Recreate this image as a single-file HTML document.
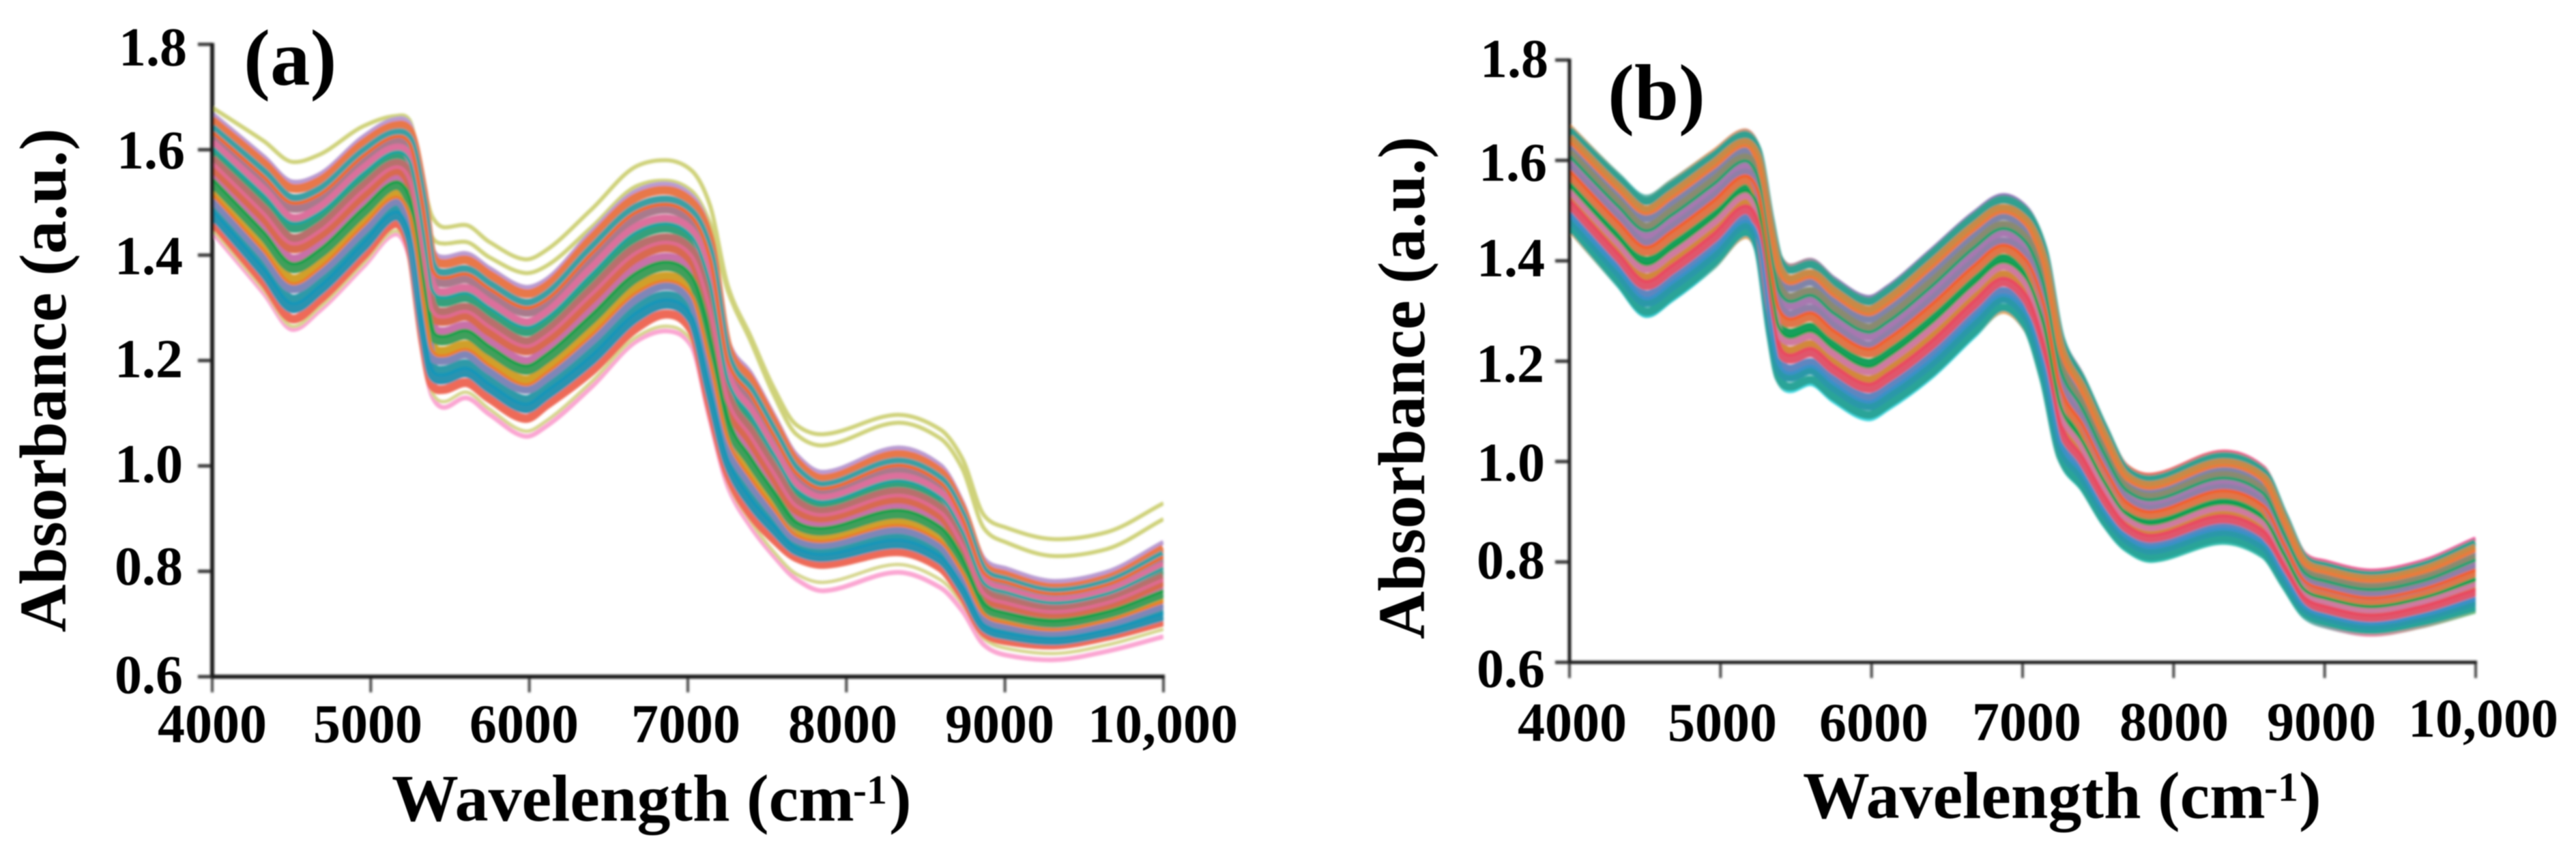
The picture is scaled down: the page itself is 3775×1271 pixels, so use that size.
<!DOCTYPE html>
<html lang="en">
<head>
<meta charset="utf-8">
<title>NIR absorbance spectra</title>
<style>
html,body{margin:0;padding:0;background:#fff;}
svg{display:block;}
text{font-family:"Liberation Serif",serif;font-weight:bold;fill:#000;}
</style>
</head>
<body>
<svg id="figure" xmlns="http://www.w3.org/2000/svg" width="3775" height="1271" viewBox="0 0 3775 1271">
<defs>
<filter id="soft" filterUnits="userSpaceOnUse" x="0" y="0" width="3775" height="1271"><feGaussianBlur stdDeviation="1.5"/></filter>
<filter id="softText" filterUnits="userSpaceOnUse" x="0" y="0" width="3775" height="1271"><feGaussianBlur stdDeviation="0.8"/></filter>
<clipPath id="clipA"><rect x="311" y="60" width="1394" height="935"/></clipPath>
<clipPath id="clipB"><rect x="2300" y="80" width="1328" height="893"/></clipPath>
<linearGradient id="bTopStroke" gradientUnits="userSpaceOnUse" x1="2300" y1="0" x2="3628" y2="0">
<stop offset="0" stop-color="#f0a060"/><stop offset="0.07" stop-color="#45b8b8"/><stop offset="0.16" stop-color="#f09a60"/><stop offset="0.3" stop-color="#8f7cb8"/><stop offset="0.55" stop-color="#8f6fb8"/><stop offset="0.62" stop-color="#ef6a50"/><stop offset="0.75" stop-color="#f0508a"/><stop offset="1" stop-color="#f0509a"/>
</linearGradient>
<linearGradient id="bBottomStroke" gradientUnits="userSpaceOnUse" x1="2300" y1="0" x2="3628" y2="0">
<stop offset="0" stop-color="#f0b070"/><stop offset="0.06" stop-color="#30c8cc"/><stop offset="0.14" stop-color="#30c8cc"/><stop offset="0.2" stop-color="#f5a860"/><stop offset="0.24" stop-color="#40d8e0"/><stop offset="0.45" stop-color="#40d8e0"/><stop offset="0.48" stop-color="#f5a860"/><stop offset="0.55" stop-color="#20b8a8"/><stop offset="0.8" stop-color="#40c0b0"/><stop offset="0.88" stop-color="#f080a0"/><stop offset="1" stop-color="#70c080"/>
</linearGradient>
</defs>
<g id="plotA" filter="url(#soft)"></g>
<g id="plotB" filter="url(#soft)"></g>
<g filter="url(#softText)">
<text x="357" y="124" font-size="117">(a)</text>
<text transform="translate(96,927) rotate(-90)" font-size="97" textLength="739" lengthAdjust="spacingAndGlyphs">Absorbance (a.u.)</text>
<text font-size="98"><tspan x="574" y="1203">Wavelength (cm</tspan><tspan x="1250" y="1178" font-size="60">-1</tspan><tspan x="1303" y="1203">)</tspan></text>
<g font-size="80" text-anchor="end">
<text x="274" y="96">1.8</text>
<text x="271" y="247">1.6</text>
<text x="268" y="402">1.4</text>
<text x="268" y="553">1.2</text>
<text x="268" y="707">1.0</text>
<text x="268" y="857">0.8</text>
<text x="268" y="1016">0.6</text>
</g>
<g font-size="80" text-anchor="middle">
<text x="311" y="1088">4000</text>
<text x="539" y="1088">5000</text>
<text x="768" y="1088">6000</text>
<text x="1005" y="1088">7000</text>
<text x="1235" y="1088">8000</text>
<text x="1465" y="1088">9000</text>
<text x="1704" y="1088">10,000</text>
</g>
</g>
<g filter="url(#softText)">
<text x="2356" y="175" font-size="117">(b)</text>
<text transform="translate(2087,937) rotate(-90)" font-size="97" textLength="737" lengthAdjust="spacingAndGlyphs">Absorbance (a.u.)</text>
<text font-size="98"><tspan x="2642" y="1199">Wavelength (cm</tspan><tspan x="3318" y="1174" font-size="60">-1</tspan><tspan x="3369" y="1199">)</tspan></text>
<g font-size="80" text-anchor="end">
<text x="2269" y="113">1.8</text>
<text x="2267" y="265">1.6</text>
<text x="2264" y="405">1.4</text>
<text x="2263" y="560">1.2</text>
<text x="2264" y="705">1.0</text>
<text x="2264" y="848">0.8</text>
<text x="2264" y="1007">0.6</text>
</g>
<g font-size="80" text-anchor="middle">
<text x="2304" y="1086">4000</text>
<text x="2524" y="1086">5000</text>
<text x="2746" y="1086">6000</text>
<text x="2970" y="1085">7000</text>
<text x="3186" y="1085">8000</text>
<text x="3402" y="1085">9000</text>
<text x="3639" y="1080">10,000</text>
</g>
</g>
</svg>
<script>
const wavenumbers = [4000,4327,4504,4671,4956,5158,5244,5330,5386,5459,5601,5748,5976,6105,6393,6678,6867,7022,7138,7254,7396,7539,7684,7853,8322,8593,8731,8869,9006,9308,9640,10000];
const xTickValues = [4000,5000,6000,7000,8000,9000,10000];
const yTickValues = [0.6,0.8,1.0,1.2,1.4,1.6,1.8];

const aOliveHigh = [1.680,1.616,1.577,1.590,1.645,1.664,1.656,1.539,1.474,1.453,1.457,1.425,1.392,1.409,1.487,1.569,1.580,1.561,1.496,1.340,1.246,1.150,1.078,1.060,1.097,1.069,1.014,.906,.883,.861,.874,.929];
const aOliveNext = [1.664,1.582,1.535,1.548,1.622,1.654,1.645,1.520,1.435,1.422,1.425,1.396,1.366,1.379,1.453,1.531,1.541,1.522,1.461,1.331,1.237,1.137,1.060,1.039,1.082,1.052,.995,.881,.855,.829,.842,.899];
const aPurpleEdge = [1.668,1.586,1.539,1.552,1.625,1.658,1.649,1.535,1.414,1.396,1.403,1.375,1.339,1.353,1.444,1.522,1.535,1.513,1.444,1.237,1.176,1.098,1.021,.988,1.034,1.001,.931,.823,.805,.781,.798,.855];
const aPinkEdge = [1.444,1.327,1.259,1.293,1.379,1.440,1.396,1.215,1.133,1.111,1.129,1.098,1.056,1.075,1.150,1.237,1.256,1.228,1.090,.960,.885,.830,.785,.763,.798,.769,.725,.660,.641,.632,.648,.676];
const aOliveLow = [1.450,1.333,1.265,1.299,1.385,1.446,1.402,1.222,1.140,1.122,1.140,1.108,1.066,1.085,1.160,1.245,1.265,1.237,1.100,.968,.895,.838,.795,.779,.813,.784,.738,.672,.654,.644,.660,.690];

const a01 = [1.656,1.574,1.527,1.540,1.613,1.646,1.637,1.523,1.402,1.384,1.391,1.363,1.327,1.341,1.432,1.510,1.523,1.501,1.432,1.225,1.164,1.086,1.009,.976,1.022,.989,.919,.811,.793,.769,.786,.843];
const a02 = [1.641,1.557,1.508,1.523,1.597,1.632,1.620,1.501,1.383,1.366,1.373,1.345,1.309,1.324,1.413,1.491,1.505,1.482,1.407,1.206,1.144,1.068,.994,.963,1.008,.975,.906,.801,.783,.761,.778,.832];
const a03 = [1.626,1.539,1.489,1.505,1.580,1.617,1.603,1.479,1.364,1.347,1.355,1.327,1.291,1.306,1.393,1.472,1.487,1.464,1.383,1.188,1.125,1.050,.978,.951,.994,.961,.893,.791,.774,.752,.769,.822];
const a04 = [1.612,1.522,1.470,1.488,1.564,1.603,1.586,1.456,1.344,1.329,1.337,1.309,1.272,1.289,1.374,1.453,1.469,1.445,1.358,1.169,1.105,1.032,.963,.938,.979,.947,.881,.782,.764,.744,.761,.811];
const a05 = [1.597,1.504,1.451,1.470,1.547,1.589,1.569,1.434,1.325,1.310,1.319,1.291,1.254,1.271,1.354,1.434,1.451,1.426,1.334,1.151,1.085,1.014,.947,.926,.965,.933,.868,.772,.755,.735,.752,.800];
const a06 = [1.582,1.487,1.432,1.453,1.531,1.574,1.552,1.412,1.306,1.292,1.301,1.273,1.236,1.254,1.335,1.415,1.433,1.408,1.309,1.132,1.066,.996,.932,.913,.951,.919,.855,.762,.745,.727,.744,.789];
const a07 = [1.567,1.469,1.412,1.435,1.514,1.560,1.535,1.390,1.287,1.274,1.284,1.254,1.218,1.237,1.316,1.395,1.414,1.389,1.285,1.113,1.046,.979,.916,.901,.937,.905,.842,.752,.735,.719,.735,.779];
const a08 = [1.552,1.452,1.393,1.418,1.498,1.546,1.518,1.368,1.268,1.255,1.266,1.236,1.199,1.219,1.296,1.376,1.396,1.370,1.260,1.095,1.026,.961,.901,.888,.923,.891,.830,.742,.726,.710,.727,.768];
const a09 = [1.538,1.434,1.374,1.400,1.481,1.532,1.501,1.346,1.249,1.237,1.248,1.218,1.181,1.202,1.277,1.357,1.378,1.351,1.236,1.076,1.006,.945,.888,.876,.908,.877,.817,.733,.716,.702,.718,.757];
const a10 = [1.523,1.417,1.355,1.383,1.465,1.517,1.484,1.324,1.229,1.218,1.230,1.200,1.163,1.185,1.257,1.338,1.360,1.333,1.211,1.058,.987,.928,.873,.863,.894,.863,.804,.723,.706,.693,.710,.747];
const a11 = [1.508,1.399,1.336,1.365,1.448,1.503,1.467,1.301,1.210,1.200,1.212,1.182,1.145,1.167,1.238,1.319,1.342,1.314,1.187,1.039,.967,.912,.862,.851,.880,.849,.791,.713,.697,.685,.701,.736];
const a12 = [1.493,1.382,1.317,1.348,1.432,1.489,1.450,1.279,1.191,1.182,1.194,1.164,1.126,1.150,1.219,1.300,1.324,1.295,1.162,1.020,.947,.896,.850,.838,.866,.835,.779,.703,.687,.677,.693,.725];
const a13 = [1.478,1.364,1.298,1.330,1.415,1.474,1.433,1.257,1.172,1.163,1.176,1.146,1.108,1.132,1.199,1.281,1.306,1.277,1.138,1.002,.928,.879,.838,.826,.851,.821,.766,.693,.678,.668,.684,.714];
const a14 = [1.464,1.347,1.279,1.313,1.399,1.460,1.416,1.235,1.153,1.145,1.158,1.128,1.090,1.115,1.180,1.262,1.288,1.258,1.113,.983,.908,.862,.826,.813,.837,.807,.753,.683,.668,.660,.676,.704];

const aThin1 = [1.634,1.548,1.499,1.514,1.589,1.625,1.612,1.490,1.374,1.357,1.364,1.336,1.300,1.315,1.403,1.482,1.496,1.473,1.395,1.197,1.135,1.059,.986,.957,1.001,.968,.900,.796,.779,.757,.774,.827];
const aThin2 = [1.605,1.513,1.461,1.479,1.556,1.596,1.578,1.445,1.335,1.320,1.328,1.300,1.263,1.280,1.364,1.444,1.460,1.436,1.346,1.160,1.095,1.023,.955,.932,.972,.940,.875,.777,.760,.740,.757,.806];
const aThin3 = [1.575,1.478,1.422,1.444,1.523,1.567,1.544,1.401,1.297,1.283,1.293,1.264,1.227,1.246,1.326,1.405,1.424,1.399,1.297,1.123,1.056,.988,.924,.907,.944,.912,.849,.757,.740,.723,.740,.784];
const aThin4 = [1.545,1.443,1.384,1.409,1.490,1.539,1.510,1.357,1.259,1.246,1.257,1.227,1.190,1.211,1.287,1.367,1.387,1.361,1.248,1.086,1.016,.952,.893,.882,.916,.884,.824,.738,.721,.706,.723,.763];
const aThin5 = [1.516,1.408,1.346,1.374,1.457,1.510,1.476,1.313,1.220,1.209,1.221,1.191,1.154,1.176,1.248,1.329,1.351,1.324,1.199,1.049,.977,.920,.868,.857,.887,.856,.798,.718,.702,.689,.706,.742];
const aThin6 = [1.486,1.373,1.308,1.339,1.424,1.482,1.442,1.268,1.182,1.173,1.185,1.155,1.117,1.141,1.209,1.291,1.315,1.286,1.150,1.011,.938,.888,.844,.832,.859,.828,.773,.698,.683,.673,.689,.720];

const bTopEdge = [1.668,1.570,1.527,1.557,1.618,1.659,1.630,1.490,1.413,1.390,1.401,1.365,1.327,1.347,1.420,1.495,1.530,1.506,1.432,1.252,1.170,1.075,.992,.973,1.019,.988,.900,.815,.800,.782,.800,.846];
const bBottomEdge = [1.462,1.350,1.291,1.321,1.388,1.448,1.420,1.245,1.159,1.141,1.155,1.121,1.085,1.105,1.168,1.250,1.299,1.262,1.157,1.000,.945,.875,.825,.803,.839,.811,.750,.690,.672,.656,.672,.702];

const b01 = [1.660,1.562,1.519,1.549,1.610,1.651,1.622,1.482,1.405,1.382,1.393,1.357,1.319,1.339,1.412,1.487,1.522,1.498,1.424,1.244,1.162,1.067,.984,.965,1.011,.980,.892,.807,.792,.774,.792,.838];
const b02 = [1.645,1.546,1.502,1.532,1.594,1.636,1.607,1.464,1.387,1.364,1.375,1.340,1.302,1.322,1.394,1.469,1.505,1.480,1.404,1.226,1.146,1.053,.972,.953,.998,.968,.882,.799,.783,.766,.783,.828];
const b03 = [1.631,1.531,1.485,1.515,1.577,1.621,1.592,1.447,1.368,1.346,1.358,1.322,1.284,1.304,1.376,1.452,1.489,1.463,1.384,1.208,1.130,1.039,.961,.941,.986,.955,.871,.790,.775,.757,.775,.818];
const b04 = [1.616,1.515,1.468,1.498,1.561,1.606,1.577,1.429,1.350,1.328,1.340,1.305,1.267,1.287,1.357,1.434,1.472,1.445,1.364,1.189,1.114,1.024,.949,.930,.973,.943,.861,.782,.766,.749,.766,.809];
const b05 = [1.602,1.499,1.451,1.481,1.544,1.591,1.562,1.412,1.332,1.310,1.322,1.287,1.249,1.269,1.339,1.417,1.456,1.428,1.344,1.171,1.098,1.010,.938,.918,.961,.930,.851,.773,.758,.740,.758,.799];
const b06 = [1.587,1.484,1.435,1.465,1.528,1.576,1.548,1.394,1.313,1.293,1.305,1.270,1.232,1.252,1.321,1.399,1.439,1.410,1.325,1.153,1.082,.996,.926,.906,.948,.918,.840,.765,.749,.732,.749,.789];
const b07 = [1.572,1.468,1.418,1.448,1.511,1.561,1.533,1.376,1.295,1.275,1.287,1.252,1.215,1.235,1.303,1.381,1.423,1.393,1.305,1.135,1.065,.982,.914,.894,.935,.906,.830,.757,.740,.723,.740,.779];
const b08 = [1.558,1.452,1.401,1.431,1.495,1.546,1.518,1.359,1.277,1.257,1.269,1.234,1.197,1.217,1.285,1.364,1.406,1.375,1.285,1.117,1.049,.968,.903,.882,.923,.893,.820,.748,.732,.715,.732,.769];
const b09 = [1.543,1.436,1.384,1.414,1.478,1.531,1.503,1.341,1.259,1.239,1.251,1.217,1.180,1.200,1.267,1.346,1.390,1.358,1.265,1.099,1.033,.954,.891,.870,.910,.881,.810,.740,.723,.706,.723,.759];
const b10 = [1.529,1.421,1.367,1.397,1.462,1.516,1.488,1.323,1.240,1.221,1.234,1.199,1.163,1.183,1.248,1.328,1.373,1.340,1.245,1.081,1.017,.940,.879,.859,.898,.868,.799,.732,.715,.698,.715,.749];
const b11 = [1.514,1.405,1.350,1.380,1.445,1.501,1.473,1.306,1.222,1.203,1.216,1.182,1.145,1.165,1.230,1.311,1.357,1.323,1.225,1.063,1.001,.925,.868,.847,.885,.856,.789,.723,.706,.689,.706,.740];
const b12 = [1.499,1.389,1.333,1.363,1.429,1.486,1.458,1.288,1.204,1.185,1.198,1.164,1.128,1.148,1.212,1.293,1.340,1.305,1.205,1.044,.985,.911,.856,.835,.872,.844,.779,.715,.697,.681,.697,.730];
const b13 = [1.485,1.374,1.316,1.346,1.412,1.471,1.443,1.271,1.185,1.167,1.181,1.147,1.110,1.130,1.194,1.276,1.324,1.288,1.185,1.026,.969,.897,.845,.823,.860,.831,.768,.706,.689,.672,.689,.720];
const b14 = [1.470,1.358,1.299,1.329,1.396,1.456,1.428,1.253,1.167,1.149,1.163,1.129,1.093,1.113,1.176,1.258,1.307,1.270,1.165,1.008,.953,.883,.833,.811,.847,.819,.758,.698,.680,.664,.680,.710];

const bThin1 = [1.638,1.539,1.494,1.524,1.586,1.629,1.600,1.456,1.378,1.355,1.367,1.331,1.293,1.313,1.385,1.461,1.497,1.472,1.394,1.217,1.138,1.046,.967,.947,.992,.962,.877,.795,.779,.762,.779,.823];
const bThin2 = [1.609,1.507,1.460,1.490,1.553,1.599,1.570,1.421,1.341,1.319,1.331,1.296,1.258,1.278,1.348,1.426,1.464,1.437,1.354,1.180,1.106,1.017,.944,.924,.967,.937,.856,.778,.762,.745,.762,.804];
const bThin3 = [1.580,1.476,1.427,1.457,1.520,1.569,1.541,1.385,1.304,1.284,1.296,1.261,1.224,1.244,1.312,1.390,1.431,1.402,1.315,1.144,1.074,.989,.920,.900,.942,.912,.835,.761,.745,.728,.745,.784];
const bThin4 = [1.551,1.444,1.393,1.423,1.487,1.539,1.511,1.350,1.268,1.248,1.260,1.226,1.189,1.209,1.276,1.355,1.398,1.367,1.275,1.108,1.041,.961,.897,.876,.917,.887,.815,.744,.728,.711,.728,.764];
const bThin5 = [1.522,1.413,1.359,1.389,1.454,1.509,1.481,1.315,1.231,1.212,1.225,1.191,1.154,1.174,1.239,1.320,1.365,1.332,1.235,1.072,1.009,.933,.874,.853,.892,.862,.794,.728,.711,.694,.711,.745];
const bThin6 = [1.492,1.382,1.325,1.355,1.421,1.479,1.451,1.280,1.195,1.176,1.190,1.156,1.119,1.139,1.203,1.285,1.332,1.297,1.195,1.035,.977,.904,.851,.829,.866,.838,.774,.711,.693,.677,.693,.725];

const NS = 'http://www.w3.org/2000/svg';

function xScaleA(w){ return 311 + (w - 4000) * (1705 - 311) / 6000; }
function yScaleA(v){ return 992 - (v - 0.6) * (992 - 65) / 1.2; }
function xScaleB(w){ return 2300 + (w - 4000) * (3628 - 2300) / 6000; }
function yScaleB(v){ return 971 - (v - 0.6) * (971 - 88) / 1.2; }

function curvePath(values, xs, ys){
  const px = wavenumbers.map(xs);
  const py = values.map(ys);
  const n = px.length;
  const slope = [];
  for (let i = 0; i < n - 1; i++) slope.push((py[i + 1] - py[i]) / (px[i + 1] - px[i]));
  const tan = [slope[0]];
  for (let i = 1; i < n - 1; i++) {
    const central = (py[i + 1] - py[i - 1]) / (px[i + 1] - px[i - 1]);
    let mono = 0;
    if (slope[i - 1] * slope[i] > 0) {
      const h0 = px[i] - px[i - 1];
      const h1 = px[i + 1] - px[i];
      mono = (h0 + h1) * 3 / ((2 * h1 + h0) / slope[i - 1] + (h1 + 2 * h0) / slope[i]);
    }
    tan.push((mono + central) / 2);
  }
  tan.push(slope[n - 2]);
  let d = 'M' + px[0].toFixed(1) + ' ' + py[0].toFixed(1);
  for (let i = 0; i < n - 1; i++) {
    const h = (px[i + 1] - px[i]) / 3;
    d += 'C' + (px[i] + h).toFixed(1) + ' ' + (py[i] + tan[i] * h).toFixed(1) + ' ' +
         (px[i + 1] - h).toFixed(1) + ' ' + (py[i + 1] - tan[i + 1] * h).toFixed(1) + ' ' +
         px[i + 1].toFixed(1) + ' ' + py[i + 1].toFixed(1);
  }
  return d;
}

function drawSeries(parent, values, xs, ys, color, width, clip){
  const el = document.createElementNS(NS, 'path');
  
  
  el.setAttribute('d', curvePath(values, xs, ys));
  el.setAttribute('fill', 'none');
  el.setAttribute('stroke', color);
  el.setAttribute('stroke-width', width);
  el.setAttribute('stroke-linejoin', 'round');
  el.setAttribute('clip-path', clip);
  parent.appendChild(el);
}

function drawLine(parent, name, x1, y1, x2, y2, color, width){
  const el = document.createElementNS(NS, 'line');
  
  
  el.setAttribute('x1', x1);
  el.setAttribute('y1', y1);
  el.setAttribute('x2', x2);
  el.setAttribute('y2', y2);
  el.setAttribute('stroke', color);
  el.setAttribute('stroke-width', width);
  parent.appendChild(el);
}

function drawAxes(parent, xs, ys, axisWidth, tickWidth){
  const x0 = xs(4000);
  const y0 = ys(0.6);
  yTickValues.forEach(function(v){
    drawLine(parent, 'y-axis-tick', x0 - 21, ys(v), x0, ys(v), '#3a3a3a', tickWidth + 1);
  });
  xTickValues.forEach(function(w){
    drawLine(parent, 'x-axis-tick', xs(w), y0, xs(w), y0 + 23, '#4a4a4a', tickWidth);
  });
  drawLine(parent, 'y-axis-line', x0, ys(1.8) - 2, x0, y0, '#1c1c1c', axisWidth);
  drawLine(parent, 'x-axis-line', x0 - 2, y0, xs(10000) + 2, y0, '#1c1c1c', axisWidth);
}

const plotA = document.getElementById('plotA');
const plotB = document.getElementById('plotB');

const seriesA = [a14,a01,a12,a03,a10,a05,a08,a07,a13,a02,a11,a04,a09,a06];
const colorsA = ['#ee6a58','#e8784a','#2f9aa8','#a87a8c','#d0a02c','#35a07c','#c870a8','#d86a50','#2c93b0','#3aa0a4','#7f86b8','#dc6f9c','#3f9f5c','#b8706c'];
const seriesB = [b14,b01,b12,b03,b10,b05,b08,b07,b13,b02,b11,b04,b09,b06];
const colorsB = ['#2aa498','#30a090','#5f86c0','#7f84a8','#d2883a','#a878b0','#18a05c','#e0764a','#2b98a8','#c88a46','#e0566c','#8a8a70','#cf7aa0','#8f7fa8'];

drawSeries(plotA, aOliveHigh, xScaleA, yScaleA, '#cfd27a', 6, 'url(#clipA)');
drawSeries(plotA, aOliveNext, xScaleA, yScaleA, '#cfd27a', 6, 'url(#clipA)');
drawSeries(plotA, aPurpleEdge, xScaleA, yScaleA, '#b99bd2', 7, 'url(#clipA)');
drawSeries(plotA, aPinkEdge, xScaleA, yScaleA, '#fba6d2', 7, 'url(#clipA)');
drawSeries(plotA, aOliveLow, xScaleA, yScaleA, '#d6d68e', 5, 'url(#clipA)');
seriesA.forEach(function(values, i){
  drawSeries(plotA, values, xScaleA, yScaleA, colorsA[i], 13, 'url(#clipA)');
});
const thinSeriesA = [aThin1,aThin2,aThin3,aThin4,aThin5,aThin6];
const thinColorsA = ['#ef6a2c','#1fa4a0','#e06a90','#18a04c','#e8802c','#1396b8'];
thinSeriesA.forEach(function(values, i){
  drawSeries(plotA, values, xScaleA, yScaleA, thinColorsA[i], 5, 'url(#clipA)');
});
drawAxes(plotA, xScaleA, yScaleA, 6, 4);

drawSeries(plotB, bTopEdge, xScaleB, yScaleB, 'url(#bTopStroke)', 7, 'url(#clipB)');
drawSeries(plotB, bBottomEdge, xScaleB, yScaleB, 'url(#bBottomStroke)', 7, 'url(#clipB)');
seriesB.forEach(function(values, i){
  drawSeries(plotB, values, xScaleB, yScaleB, colorsB[i], 12, 'url(#clipB)');
});
const thinSeriesB = [bThin1,bThin2,bThin3,bThin4,bThin5,bThin6];
const thinColorsB = ['#ea7a3a','#1aa070','#f0602c','#10a050','#e84a60','#3a90c8'];
thinSeriesB.forEach(function(values, i){
  drawSeries(plotB, values, xScaleB, yScaleB, thinColorsB[i], 5, 'url(#clipB)');
});
drawAxes(plotB, xScaleB, yScaleB, 5, 4);
</script>
</body>
</html>
